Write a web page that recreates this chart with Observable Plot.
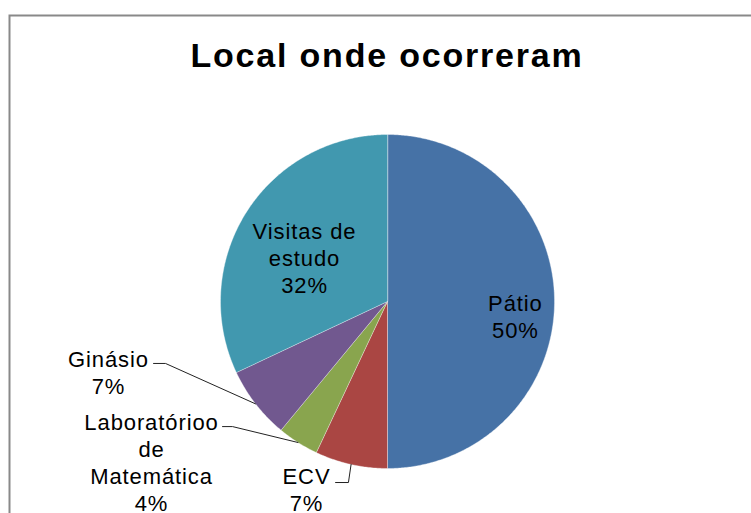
<!DOCTYPE html>
<html>
<head>
<meta charset="utf-8">
<script src="https://cdn.jsdelivr.net/npm/d3@7"></script>
<script src="https://cdn.jsdelivr.net/npm/@observablehq/plot@0.6"></script>
<style>
  html, body { margin: 0; padding: 0; background: #fff; overflow: hidden; }
  #chart { width: 751px; height: 513px; }
  #chart svg text { font-family: "Liberation Sans", Arial, sans-serif; }
  #chart svg .lbl text { letter-spacing: 0.9px; }
  #chart svg .ttl text { letter-spacing: 1.8px; }
</style>
</head>
<body>
<div id="chart"></div>
<script>
// ---- data ----
const title = "Local onde ocorreram";
const names = ["Pátio", "ECV", "Laboratórioo de Matemática", "Ginásio", "Visitas de estudo"];
const labelLines = ["Pátio", "ECV", "Laboratórioo\nde\nMatemática", "Ginásio", "Visitas de\nestudo"];
const values = [50, 7, 4, 7, 32];
const colors = ["#4672A6", "#AA4643", "#89A54E", "#71588F", "#4198AF"];

// ---- layout (pie-radius units, centre = 0,0) ----
const labelPos = [[0.766, -0.087], [-0.485, -1.12], [-1.413, -0.958], [-1.671, -0.422], [-0.497, 0.263]];
const leaderStart = [null, [-0.311, -1.084], [-0.988, -0.749], [-1.401, -0.371], null];
const leaderElbow = [null, [-0.234, -1.084], [-0.928, -0.749], [-1.329, -0.371], null];

const total = d3.sum(values);
const arcs = d3.pie().sort(null).value(d => d)(values);

// slice polygons
const slicePts = [];
arcs.forEach((a, i) => {
  slicePts.push({name: names[i], x: 0, y: 0});
  const n = Math.max(2, Math.ceil((a.endAngle - a.startAngle) / (Math.PI / 360)));
  for (let k = 0; k <= n; k++) {
    const t = a.startAngle + (a.endAngle - a.startAngle) * k / n;
    slicePts.push({name: names[i], x: Math.sin(t), y: Math.cos(t)});
  }
});

// labels
const labelData = names.map((nm, i) => ({
  name: nm,
  x: labelPos[i][0],
  y: labelPos[i][1],
  text: labelLines[i] + "\n" + Math.round(values[i] / total * 100) + "%"
}));

// leader lines
const leaderPts = [];
arcs.forEach((a, i) => {
  if (!leaderStart[i]) return;
  const m = (a.startAngle + a.endAngle) / 2;
  leaderPts.push({name: names[i], x: leaderStart[i][0], y: leaderStart[i][1]});
  leaderPts.push({name: names[i], x: leaderElbow[i][0], y: leaderElbow[i][1]});
  leaderPts.push({name: names[i], x: Math.sin(m), y: Math.cos(m)});
});

const plot = Plot.plot({
  width: 751,
  height: 513,
  margin: 0,
  style: {background: "#fff"},
  x: {domain: [-1, 1], range: [220, 554], axis: null},
  y: {domain: [-1, 1], range: [468, 134], axis: null},
  color: {domain: names, range: colors},
  marks: [
    Plot.frame({stroke: "#898989", strokeWidth: 2, insetLeft: 9, insetTop: 15, insetRight: -20, insetBottom: -20}),
    Plot.line(slicePts, {x: "x", y: "y", z: "name", fill: "name", stroke: "#ffffff", strokeOpacity: 0.45, strokeWidth: 0.8, curve: "linear-closed"}),
    Plot.line(leaderPts, {x: "x", y: "y", z: "name", stroke: "#222", strokeWidth: 1}),
    Plot.text(labelData, {x: "x", y: "y", text: "text", fontSize: 22, lineHeight: 1.23, fill: "#000", className: "lbl"}),
    Plot.text([title], {frameAnchor: "top", lineAnchor: "top", dx: 11, dy: 42, text: d => d, fontSize: 34, fontWeight: "bold", fill: "#000", className: "ttl"})
  ]
});
document.getElementById("chart").appendChild(plot);
</script>
</body>
</html>
